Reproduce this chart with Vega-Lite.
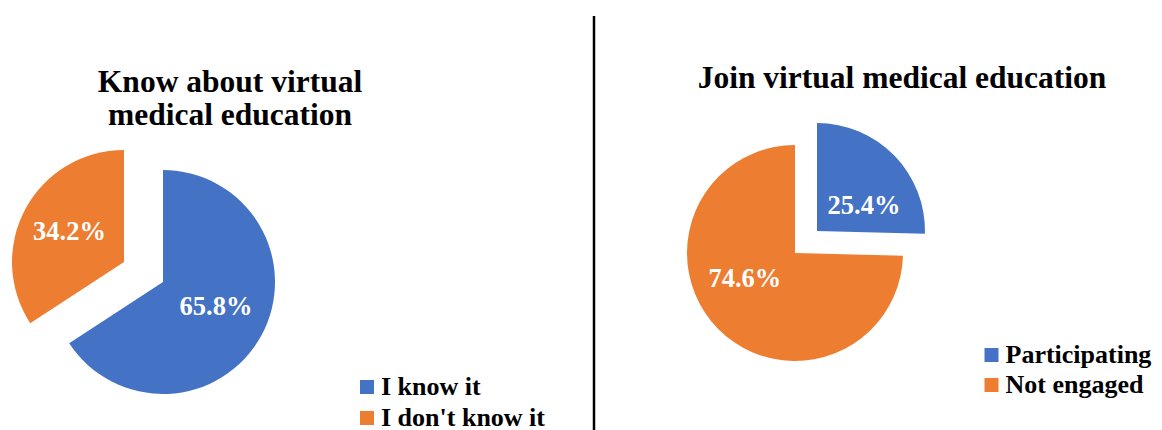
{
  "$schema": "https://vega.github.io/schema/vega-lite/v6.json",
  "padding": {"left": 12, "top": 14, "right": 0, "bottom": 0},
  "autosize": {"type": "pad"},
  "bounds": "flush",
  "spacing": 93,
  "config": {
    "view": {"stroke": null},
    "font": "Liberation Serif",
    "title": {"font": "Liberation Serif", "fontWeight": "bold", "color": "#000000"}
  },
  "resolve": {"scale": {"color": "independent", "theta": "independent"}, "legend": {"color": "independent"}},
  "hconcat": [
    {
      "width": 224,
      "height": 274,
      "title": {"text": ["Know about virtual", "medical education"], "fontSize": 31.5, "lineHeight": 33, "frame": "group", "anchor": "middle", "dx": 67, "offset": 14},
      "data": {"values": [
        {"answer": "I know it", "share": 0.658},
        {"answer": "I don't know it", "share": 0.342}
      ]},
      "transform": [{"stack": "share", "groupby": [], "sort": [{"field": "share", "order": "descending"}], "as": ["start", "end"]}],
      "encoding": {
        "color": {
          "field": "answer", "type": "nominal",
          "scale": {"domain": ["I know it", "I don't know it"], "range": ["#4472C4", "#ED7D31"]},
          "legend": {"title": null, "orient": "none", "legendX": 303, "legendY": 229, "symbolType": "square", "symbolSize": 196, "symbolStrokeWidth": 0, "symbolOpacity": 1, "labelFont": "Liberation Serif", "labelFontWeight": "bold", "labelFontSize": 26, "labelColor": "#000000", "labelLimit": 0, "labelOffset": 1, "rowPadding": 5}
        }
      },
      "layer": [
        {
          "transform": [{"filter": "datum.answer === 'I know it'"}],
          "mark": {"type": "arc", "outerRadius": 112},
          "encoding": {"theta": {"field": "start", "type": "quantitative", "scale": {"domain": [0, 1]}}, "theta2": {"field": "end"}}
        },
        {
          "transform": [{"filter": "datum.answer !== 'I know it'"}],
          "mark": {"type": "arc", "outerRadius": 112, "xOffset": -39, "yOffset": -20},
          "encoding": {"theta": {"field": "start", "type": "quantitative", "scale": {"domain": [0, 1]}}, "theta2": {"field": "end"}}
        },
        {
          "mark": {"type": "text", "radius": 58, "fill": "#FFFFFF", "fontSize": 26.5, "fontWeight": "bold", "font": "Liberation Serif", "dx": 2, "dy": -3},
          "encoding": {
            "theta": {"field": "share", "type": "quantitative", "stack": true, "scale": {"domain": [0, 1]}},
            "order": {"field": "share", "type": "quantitative", "sort": "descending"},
            "text": {"field": "share", "type": "quantitative", "format": ".1%"},
            "opacity": {"condition": {"test": "datum.answer === 'I know it'", "value": 1}, "value": 0},
            "color": {"value": "#FFFFFF"}
          }
        },
        {
          "mark": {"type": "text", "radius": 62, "fill": "#FFFFFF", "fontSize": 26.5, "fontWeight": "bold", "font": "Liberation Serif", "xOffset": -39, "yOffset": -20},
          "encoding": {
            "theta": {"field": "share", "type": "quantitative", "stack": true, "scale": {"domain": [0, 1]}},
            "order": {"field": "share", "type": "quantitative", "sort": "descending"},
            "text": {"field": "share", "type": "quantitative", "format": ".1%"},
            "opacity": {"condition": {"test": "datum.answer !== 'I know it'", "value": 1}, "value": 0},
            "color": {"value": "#FFFFFF"}
          }
        }
      ]
    },
    {
      "width": 226,
      "height": 285,
      "data": {"values": [{"divider": "panel separator"}]},
      "mark": {"type": "rule", "color": "#000000", "strokeWidth": 2.5},
      "encoding": {"x": {"value": "width"}, "y": {"value": -129}, "y2": {"value": "height"}}
    },
    {
      "width": 216,
      "height": 216,
      "title": {"text": "Join virtual medical education", "fontSize": 31.5, "frame": "group", "anchor": "middle", "dx": 107, "offset": 29},
      "data": {"values": [
        {"answer": "Participating", "share": 0.254},
        {"answer": "Not engaged", "share": 0.746}
      ]},
      "transform": [{"stack": "share", "groupby": [], "sort": [{"field": "share", "order": "ascending"}], "as": ["start", "end"]}],
      "encoding": {
        "color": {
          "field": "answer", "type": "nominal",
          "scale": {"domain": ["Participating", "Not engaged"], "range": ["#4472C4", "#ED7D31"]},
          "legend": {"title": null, "orient": "none", "legendX": 291.5, "legendY": 197, "symbolType": "square", "symbolSize": 196, "symbolStrokeWidth": 0, "symbolOpacity": 1, "labelFont": "Liberation Serif", "labelFontWeight": "bold", "labelFontSize": 26, "labelColor": "#000000", "labelLimit": 0, "labelOffset": 1, "rowPadding": 4}
        }
      },
      "layer": [
        {
          "transform": [{"filter": "datum.answer === 'Not engaged'"}],
          "mark": {"type": "arc", "outerRadius": 108},
          "encoding": {"theta": {"field": "start", "type": "quantitative", "scale": {"domain": [0, 1]}}, "theta2": {"field": "end"}}
        },
        {
          "transform": [{"filter": "datum.answer === 'Participating'"}],
          "mark": {"type": "arc", "outerRadius": 108, "xOffset": 22, "yOffset": -22},
          "encoding": {"theta": {"field": "start", "type": "quantitative", "scale": {"domain": [0, 1]}}, "theta2": {"field": "end"}}
        },
        {
          "mark": {"type": "text", "radius": 56, "fill": "#FFFFFF", "fontSize": 26.5, "fontWeight": "bold", "font": "Liberation Serif", "dx": -10, "dy": -13},
          "encoding": {
            "theta": {"field": "share", "type": "quantitative", "stack": true, "scale": {"domain": [0, 1]}},
            "order": {"field": "share", "type": "quantitative", "sort": "ascending"},
            "text": {"field": "share", "type": "quantitative", "format": ".1%"},
            "opacity": {"condition": {"test": "datum.answer === 'Not engaged'", "value": 1}, "value": 0},
            "color": {"value": "#FFFFFF"}
          }
        },
        {
          "mark": {"type": "text", "radius": 53, "fill": "#FFFFFF", "fontSize": 26.5, "fontWeight": "bold", "font": "Liberation Serif", "xOffset": 22, "yOffset": -22, "dx": 9, "dy": 12},
          "encoding": {
            "theta": {"field": "share", "type": "quantitative", "stack": true, "scale": {"domain": [0, 1]}},
            "order": {"field": "share", "type": "quantitative", "sort": "ascending"},
            "text": {"field": "share", "type": "quantitative", "format": ".1%"},
            "opacity": {"condition": {"test": "datum.answer === 'Participating'", "value": 1}, "value": 0},
            "color": {"value": "#FFFFFF"}
          }
        }
      ]
    }
  ]
}
